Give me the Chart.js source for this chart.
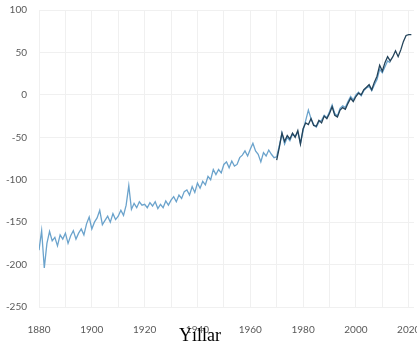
<!DOCTYPE html>
<html>
<head>
<meta charset="utf-8">
<script src="https://cdn.jsdelivr.net/npm/chart.js@4/dist/chart.umd.min.js"></script>
<style>
  html, body { margin: 0; padding: 0; background: #fff; }
  #wrap { position: relative; width: 417px; height: 347px; }
  #axisTitle {
    position: absolute; left: 200px; top: 326px; transform: translateX(-50%);
    font-family: "Liberation Serif", "Times New Roman", serif; font-size: 18px; color: #000;
    line-height: 18px; white-space: nowrap;
  }
</style>
</head>
<body>
<div id="wrap">
  <canvas id="c" width="417" height="347"></canvas>
  <div id="axisTitle">Yıllar</div>
</div>
<script>
// Reconstructed series (mm) — long record 1880–2013
const longYears = [];
for (let y = 1880; y <= 2013; y++) longYears.push(y);
const longValues = [
  -183, -160, -204, -175, -161, -172, -168, -178, -165, -170,
  -163, -175, -166, -160, -170, -163, -158, -165, -152, -144,
  -158, -150, -145, -136, -153, -148, -143, -150, -140, -147,
  -143, -136, -142, -130, -107, -135, -128, -133, -126, -130,
  -129, -133, -127, -131, -126, -134, -129, -133, -125, -130,
  -124, -120, -126, -118, -122, -114, -112, -118, -108, -115,
  -104, -110, -102, -106, -96, -100, -88, -94, -88, -92,
  -82, -79, -86, -78, -84, -82, -74, -71, -66, -72,
  -64, -57, -66, -70, -79, -68, -72, -65, -70, -74,
  -73, -60, -45, -58, -50, -54, -46, -49, -44, -57,
  -42, -30, -18, -28, -35, -38, -32, -30, -24, -27,
  -20, -12, -22, -25, -16, -13, -15, -8, -2, -6,
  0, 3, -1, 5, 8, 10, 5, 12, 18, 30,
  26, 33, 40, 38
];

// Recent record 1970–2021
const recentYears = [];
for (let y = 1970; y <= 2021; y++) recentYears.push(y);
const recentValues = [
  -77, -62, -45, -55, -48, -52, -45, -50, -42, -58,
  -40, -33, -35, -28, -36, -37, -30, -33, -25, -28,
  -22, -14, -24, -26, -18, -15, -17, -10, -4, -8,
  -2, 2, 0, 6, 9, 12, 6, 15, 22, 35,
  28, 38, 45, 40, 45, 52, 45, 53, 63, 70,
  71, 71
];

const yTicks = [100, 50, 0, -50, -100, -150, -200, -250];

const toPoints = (xs, ys) => xs.map((x, i) => ({ x: x, y: ys[i] }));

const tickFont = { family: "Lato, 'Open Sans', sans-serif", size: 10 };

new Chart(document.getElementById('c'), {
  type: 'line',
  data: {
    datasets: [
      {
        label: 'recent',
        data: toPoints(recentYears, recentValues),
        borderColor: '#23435a',
        borderWidth: 1.3,
        pointRadius: 0,
        tension: 0,
        order: 0
      },
      {
        label: 'long',
        data: toPoints(longYears, longValues),
        borderColor: '#6ba3cc',
        borderWidth: 1.3,
        pointRadius: 0,
        tension: 0,
        order: 1
      }
    ]
  },
  options: {
    responsive: false,
    animation: false,
    events: [],
    layout: { autoPadding: false, padding: { top: 10, right: 3, left: 0, bottom: 0 } },
    plugins: { legend: { display: false }, tooltip: { enabled: false }, title: { display: false } },
    scales: {
      x: {
        type: 'linear',
        min: 1880,
        max: 2022,
        border: { display: false },
        grid: { color: '#f0f0f0', drawTicks: false, lineWidth: 1 },
        ticks: {
          stepSize: 10,
          includeBounds: false,
          autoSkip: false,
          maxRotation: 0,
          padding: 17,
          color: '#595959',
          font: tickFont,
          callback: v => (v % 20 === 0 ? String(v) : '')
        },
        afterFit: s => { s.height = 40; s.paddingLeft = 0; s.paddingRight = 0; }
      },
      y: {
        min: -250,
        max: 100,
        border: { display: false },
        grid: { color: '#f0f0f0', drawTicks: false, lineWidth: 1 },
        afterBuildTicks: s => { s.ticks = yTicks.map(v => ({ value: v })); },
        ticks: {
          padding: 12,
          color: '#595959',
          font: tickFont,
          callback: v => String(v)
        },
        afterFit: s => { s.width = 39; s.paddingTop = 0; s.paddingBottom = 0; }
      }
    }
  }
});
</script>
</body>
</html>
